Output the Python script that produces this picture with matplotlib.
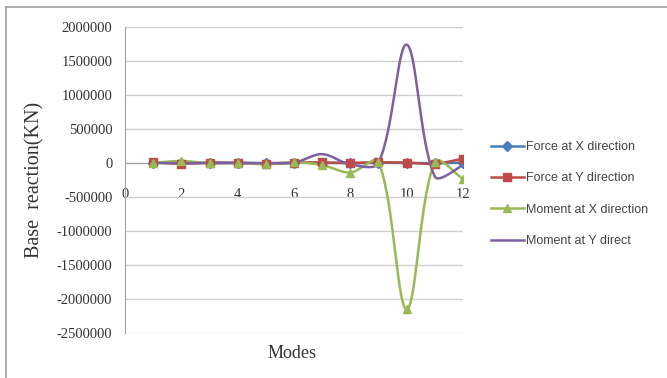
import numpy as np
import matplotlib.pyplot as plt
from matplotlib.lines import Line2D

# modes and base reactions
modes = [1, 2, 3, 4, 5, 6, 7, 8, 9, 10, 11, 12]
force_x = [5000, -4000, 3000, 2000, -3000, 4000, 3000, -2000, 3000, 2000, -3000, 6000]
force_y = [12000, -10000, 5000, 3000, -8000, 6000, 8000, 2000, 10000, 5000, -12000, 65000]
moment_x = [0, 30000, -5000, 5000, -20000, 10000, -30000, -140000, 20000, -2150000, 20000, -240000]
moment_y = [0, 0, 0, 0, 0, 5000, 130000, -20000, 0, 1740000, -200000, -30000]

series_names = ['Force at X direction', 'Force at Y direction',
                'Moment at X direction', 'Moment at Y direct']
colors = ['#4a7ebb', '#be4b48', '#98b954', '#7d60a0']
markers = ['D', 's', '^', None]
msizes = [5, 6, 6, 0]

# pixel size of one unit on each axis, used to weight the smoothing
XPX = 338 / 12.0
YPX = 306 / 4.5e6


def smooth(x, y, n=40):
    # excel-like smoothed line: bezier segments, control arms weighted by chord length
    P = np.column_stack([np.asarray(x, float) * XPX, np.asarray(y, float) * YPX])
    m = len(P)
    out = []
    t = np.linspace(0, 1, n)[:, None]
    for i in range(m - 1):
        p1, p2 = P[i], P[i + 1]
        p0 = P[i - 1] if i > 0 else p1
        p3 = P[i + 2] if i + 2 < m else p2
        d01 = np.hypot(*(p1 - p0))
        d12 = np.hypot(*(p2 - p1))
        d23 = np.hypot(*(p3 - p2))
        c1 = p1 + (p2 - p0) / 3 * (d12 / (d01 + d12) if d01 > 0 else 0.5)
        c2 = p2 - (p3 - p1) / 3 * (d12 / (d12 + d23) if d23 > 0 else 0.5)
        b = ((1 - t) ** 3 * p1 + 3 * (1 - t) ** 2 * t * c1
             + 3 * (1 - t) * t ** 2 * c2 + t ** 3 * p2)
        out.append(b)
    out = np.vstack(out)
    return out[:, 0] / XPX, out[:, 1] / YPX


fig = plt.figure(figsize=(6.67, 3.78), dpi=100)
ax = fig.add_axes([125 / 667, 1 - 333 / 378, 338 / 667, 306 / 378])

all_data = [force_x, force_y, moment_x, moment_y]
handles = []
for data, name, c, m, ms in zip(all_data, series_names, colors, markers, msizes):
    sx, sy = smooth(modes, data)
    ax.plot(sx, sy, color=c, lw=1.8, zorder=3)
    if m:
        ax.plot(modes, data, ls='none', marker=m, ms=ms, color=c, zorder=4)
    handles.append(Line2D([], [], color=c, lw=1.8, marker=m, ms=ms))

ax.set_xlim(0, 12)
ax.set_ylim(-2500000, 2000000)
ax.set_yticks(np.arange(-2500000, 2000001, 500000))
ax.set_xticks(np.arange(0, 13, 2))
ax.yaxis.grid(True, color='#d0d0d0', lw=1)
ax.set_axisbelow(True)
for s in ['top', 'right']:
    ax.spines[s].set_visible(False)
ax.spines['bottom'].set_position(('data', 0))
ax.spines['bottom'].set_color('#a0a0a0')
ax.spines['left'].set_color('#a0a0a0')
ax.tick_params(axis='y', length=0, pad=9, labelsize=10.5, labelcolor='#333333')
ax.tick_params(axis='x', length=0, pad=18, labelsize=10.5, labelcolor='#333333')
for lab in ax.get_xticklabels() + ax.get_yticklabels():
    lab.set_family('Liberation Serif')
ax.yaxis.set_major_formatter(plt.FuncFormatter(lambda v, p: '%d' % v))

fig.text(35 / 667, 1 - 180 / 378, 'Base  reaction(KN)', rotation=90,
         ha='center', va='center', family='Liberation Serif', fontsize=14.5, color='#333333')
fig.text(292 / 667, 1 - 354 / 378, 'Modes', ha='center', va='center',
         family='Liberation Serif', fontsize=13, color='#333333')

fig.legend(handles, series_names, loc='upper left',
           bbox_to_anchor=(491 / 667, 1 - 141 / 378), frameon=False,
           borderpad=0, borderaxespad=0, handlelength=2.6, handletextpad=0.2,
           labelspacing=1.55, prop={'family': 'Liberation Sans', 'size': 9},
           labelcolor='#444444')

# outer border (top and left only visible)
fig.add_artist(Line2D([6 / 667, 1], [1 - 7 / 378, 1 - 7 / 378], color='#a0a0a0', lw=1.2))
fig.add_artist(Line2D([6 / 667, 6 / 667], [0, 1 - 7 / 378], color='#a0a0a0', lw=1.2))

fig.savefig('out.png', dpi=100)
